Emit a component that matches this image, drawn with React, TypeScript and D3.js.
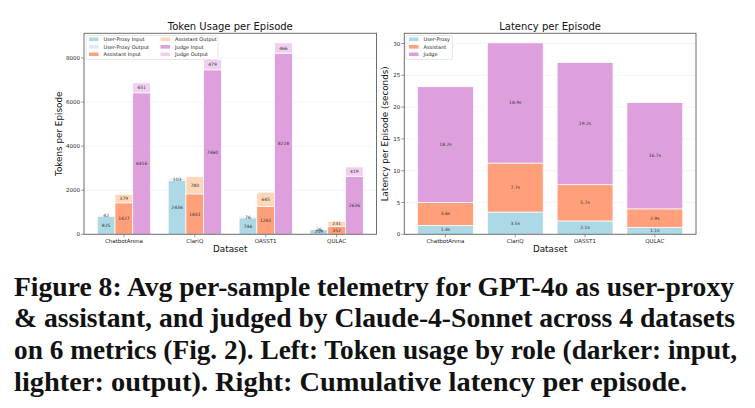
import React from 'react';
import * as d3 from 'd3';

const datasets = ['ChatbotArena', 'ClariQ', 'OASST1', 'QULAC'];

// tokens per episode, split by role and direction
const userProxyInput = [825, 2436, 746, 209];
const userProxyOutput = [42, 103, 76, 26];
const assistantInput = [1427, 1831, 1261, 352];
const assistantOutput = [379, 780, 645, 231];
const judgeInput = [6416, 7460, 8218, 2636];
const judgeOutput = [451, 479, 466, 419];

// seconds per episode, stacked by role
const latencyUserProxy = [1.4, 3.5, 2.1, 1.1];
const latencyAssistant = [3.6, 7.7, 5.7, 2.9];
const latencyJudge = [18.2, 18.9, 19.2, 16.7];

const tokenTicks = [0, 2000, 4000, 6000, 8000];
const latencyTicks = [0, 5, 10, 15, 20, 25, 30];

const captionLines = [
  'Figure 8: Avg per-sample telemetry for GPT-4o as user-proxy',
  '& assistant, and judged by Claude-4-Sonnet across 4 datasets',
  'on 6 metrics (Fig. 2). Left: Token usage by role (darker: input,',
  'lighter: output). Right: Cumulative latency per episode.',
];

const C = {
  upIn: '#add8e6',
  upOut: '#d8ecf6',
  asIn: '#ffa07a',
  asOut: '#ffd6b8',
  jIn: '#dda0dd',
  jOut: '#f0d0ef',
};

const FONT = 'DejaVu Sans, sans-serif';
const FRAME = '#6e6e6e';

type Seg = { key: string; x: number; w: number; y0: number; y1: number; color: string; label: string };

function Legend({ x, y, w, h, cols }: { x: number; y: number; w: number; h: number; cols: { x: number; items: { label: string; color: string }[] }[] }) {
  return (
    <g>
      <rect x={x} y={y} width={w} height={h} rx={1.5} fill="#fff" fillOpacity={0.85} stroke="#d6d6d6" strokeWidth={0.6} />
      {cols.map((col, ci) =>
        col.items.map((it, i) => {
          const cy = y + 3.8 + i * 7.5;
          return (
            <g key={`${ci}-${i}`}>
              <rect x={col.x} y={cy - 1.8} width={9.5} height={3.6} fill={it.color} />
              <text x={col.x + 14.5} y={cy} dominantBaseline="central" fontSize={5} fill="#222" fontFamily={FONT}>
                {it.label}
              </text>
            </g>
          );
        })
      )}
    </g>
  );
}

function Panel({
  left, right, top, bottom, x, y, ticks, title, yLabel, yLabelX, segs, legend,
}: {
  left: number; right: number; top: number; bottom: number;
  x: d3.ScaleLinear<number, number>; y: d3.ScaleLinear<number, number>;
  ticks: number[]; title: string; yLabel: string; yLabelX: number;
  segs: Seg[]; legend: React.ReactNode;
}) {
  const cx = (left + right) / 2;
  return (
    <g fontFamily={FONT}>
      {ticks.map((t) => (
        <line key={'g' + t} x1={left} x2={right} y1={y(t)} y2={y(t)} stroke="#ececec" strokeWidth={0.6} />
      ))}
      {segs.map((s) => (
        <rect key={s.key} x={s.x} y={y(s.y1)} width={s.w} height={y(s.y0) - y(s.y1)} fill={s.color} stroke="#fff" strokeWidth={0.7} />
      ))}
      {segs.map((s) => (
        <text key={'l' + s.key} x={s.x + s.w / 2} y={y((s.y0 + s.y1) / 2)} textAnchor="middle" dominantBaseline="central" fontSize={4.5} fill="#333">
          {s.label}
        </text>
      ))}
      <rect x={left} y={top} width={right - left} height={bottom - top} fill="none" stroke={FRAME} strokeWidth={1} />
      {ticks.map((t) => (
        <g key={'t' + t}>
          <line x1={left - 3} x2={left} y1={y(t)} y2={y(t)} stroke={FRAME} strokeWidth={0.7} />
          <text x={left - 4} y={y(t)} textAnchor="end" dominantBaseline="central" fontSize={5.5} fill="#222">
            {d3.format('d')(t)}
          </text>
        </g>
      ))}
      {datasets.map((d, i) => (
        <g key={'x' + d}>
          <line x1={x(i)} x2={x(i)} y1={bottom} y2={bottom + 3} stroke={FRAME} strokeWidth={0.7} />
          <text x={x(i)} y={bottom + 6.5} textAnchor="middle" dominantBaseline="central" fontSize={5.5} fill="#222">
            {d}
          </text>
        </g>
      ))}
      <text x={cx} y={29.5} textAnchor="middle" fontSize={10} fill="#111">{title}</text>
      <text x={cx} y={249} textAnchor="middle" dominantBaseline="central" fontSize={8.8} fill="#111">Dataset</text>
      <text transform={`translate(${yLabelX},${(top + bottom) / 2}) rotate(-90)`} textAnchor="middle" dominantBaseline="central" fontSize={8.8} fill="#111">
        {yLabel}
      </text>
      {legend}
    </g>
  );
}

export default function App() {
  // token usage: three stacked bars per dataset
  const tLeft = 84, tRight = 376.5, top = 33.3, bottom = 234.3;
  const barW = 0.25;
  const xT = d3.scaleLinear().domain([-0.5625, 3.5625]).range([tLeft, tRight]);
  const roles = [
    { name: 'up', inp: userProxyInput, out: userProxyOutput, ci: C.upIn, co: C.upOut, off: -barW },
    { name: 'as', inp: assistantInput, out: assistantOutput, ci: C.asIn, co: C.asOut, off: 0 },
    { name: 'j', inp: judgeInput, out: judgeOutput, ci: C.jIn, co: C.jOut, off: barW },
  ];
  const tokenMax = d3.max(datasets.map((_, i) => d3.max(roles, (r) => r.inp[i] + r.out[i]) as number)) as number;
  const yT = d3.scaleLinear().domain([0, tokenMax * 1.05]).range([bottom, top]);
  const tokenSegs: Seg[] = [];
  datasets.forEach((d, i) => {
    roles.forEach((r) => {
      const bx = xT(i + r.off - barW / 2);
      const bw = xT(barW) - xT(0);
      tokenSegs.push({ key: `${d}-${r.name}-in`, x: bx, w: bw, y0: 0, y1: r.inp[i], color: r.ci, label: String(r.inp[i]) });
      tokenSegs.push({ key: `${d}-${r.name}-out`, x: bx, w: bw, y0: r.inp[i], y1: r.inp[i] + r.out[i], color: r.co, label: String(r.out[i]) });
    });
  });

  // latency: one stacked bar per dataset
  const lLeft = 404.3, lRight = 696;
  const xL = d3.scaleLinear().domain([-0.59, 3.59]).range([lLeft, lRight]);
  const stack = d3.stack<number>().keys(['u', 'a', 'j']).value((i, k) =>
    k === 'u' ? latencyUserProxy[i] : k === 'a' ? latencyAssistant[i] : latencyJudge[i]
  );
  const layers = stack(datasets.map((_, i) => i));
  const latMax = d3.max(layers[layers.length - 1], (p) => p[1]) as number;
  const yL = d3.scaleLinear().domain([0, latMax * 1.05]).range([bottom, top]);
  const layerColors = [C.upIn, C.asIn, C.jIn];
  const latencySegs: Seg[] = [];
  layers.forEach((layer, li) => {
    layer.forEach((p, i) => {
      latencySegs.push({
        key: `${datasets[i]}-${li}`,
        x: xL(i - 0.4),
        w: xL(0.8) - xL(0),
        y0: p[0],
        y1: p[1],
        color: layerColors[li],
        label: `${(p[1] - p[0]).toFixed(1)}s`,
      });
    });
  });

  return (
    <svg width={755} height={408} style={{ position: 'absolute', left: 0, top: 0, background: '#fff' }}>
      <rect width={755} height={408} fill="#fff" />
      <Panel
        left={tLeft} right={tRight} top={top} bottom={bottom} x={xT} y={yT} ticks={tokenTicks}
        title="Token Usage per Episode" yLabel="Tokens per Episode" yLabelX={59} segs={tokenSegs}
        legend={
          <Legend
            x={86.5} y={35.5} w={131.5} h={24}
            cols={[
              { x: 89, items: [
                { label: 'User-Proxy Input', color: C.upIn },
                { label: 'User-Proxy Output', color: C.upOut },
                { label: 'Assistant Input', color: C.asIn },
              ] },
              { x: 160.5, items: [
                { label: 'Assistant Output', color: C.asOut },
                { label: 'Judge Input', color: C.jIn },
                { label: 'Judge Output', color: C.jOut },
              ] },
            ]}
          />
        }
      />
      <Panel
        left={lLeft} right={lRight} top={top} bottom={bottom} x={xL} y={yL} ticks={latencyTicks}
        title="Latency per Episode" yLabel="Latency per Episode (seconds)" yLabelX={385} segs={latencySegs}
        legend={
          <Legend
            x={406} y={35.5} w={46.5} h={24}
            cols={[
              { x: 409, items: [
                { label: 'User-Proxy', color: C.upIn },
                { label: 'Assistant', color: C.asIn },
                { label: 'Judge', color: C.jIn },
              ] },
            ]}
          />
        }
      />
      <g fontFamily="Liberation Serif, serif" fontWeight="bold" fontSize={27} fill="#111">
        {captionLines.map((line, i) => (
          <text key={i} x={14} y={295.5 + i * 31.7} textLength={[720, 721, 723, 673][i]} lengthAdjust="spacingAndGlyphs">
            {line}
          </text>
        ))}
      </g>
    </svg>
  );
}
